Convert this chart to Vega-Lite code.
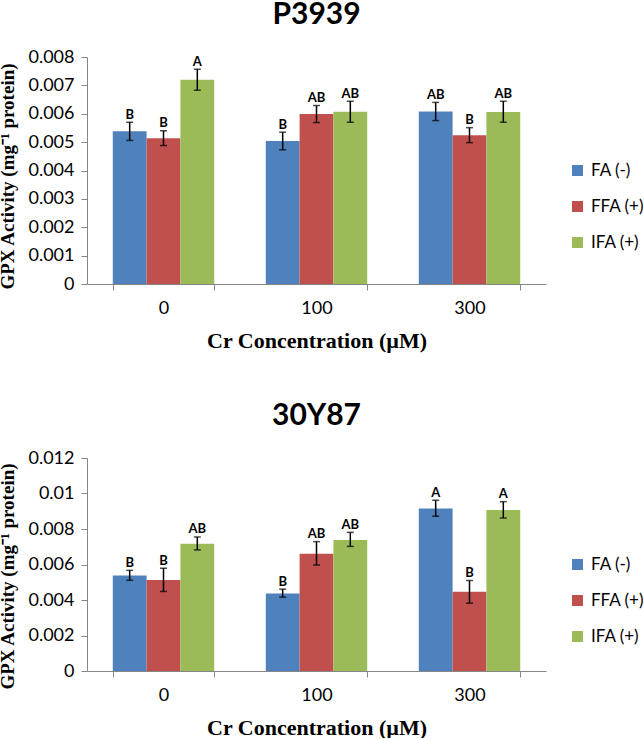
{
  "$schema": "https://vega.github.io/schema/vega-lite/v6.json",
  "padding": {"left": -3, "top": 0, "right": 0, "bottom": 0},
  "background": "white",
  "datasets": {
    "p3939": [
      {"conc": "0", "trt": "FA (-)", "value": 0.00538, "lo": 0.00506, "hi": 0.00570, "letter": "B"},
      {"conc": "0", "trt": "FFA (+)", "value": 0.00514, "lo": 0.00488, "hi": 0.00540, "letter": "B"},
      {"conc": "0", "trt": "IFA (+)", "value": 0.00720, "lo": 0.00683, "hi": 0.00757, "letter": "A"},
      {"conc": "100", "trt": "FA (-)", "value": 0.00504, "lo": 0.00473, "hi": 0.00535, "letter": "B"},
      {"conc": "100", "trt": "FFA (+)", "value": 0.00599, "lo": 0.00569, "hi": 0.00629, "letter": "AB"},
      {"conc": "100", "trt": "IFA (+)", "value": 0.00607, "lo": 0.00570, "hi": 0.00644, "letter": "AB"},
      {"conc": "300", "trt": "FA (-)", "value": 0.00608, "lo": 0.00576, "hi": 0.00640, "letter": "AB"},
      {"conc": "300", "trt": "FFA (+)", "value": 0.00524, "lo": 0.00498, "hi": 0.00551, "letter": "B"},
      {"conc": "300", "trt": "IFA (+)", "value": 0.00606, "lo": 0.00570, "hi": 0.00644, "letter": "AB"}
    ],
    "y87": [
      {"conc": "0", "trt": "FA (-)", "value": 0.00538, "lo": 0.00511, "hi": 0.00567, "letter": "B"},
      {"conc": "0", "trt": "FFA (+)", "value": 0.00513, "lo": 0.00448, "hi": 0.00579, "letter": "B"},
      {"conc": "0", "trt": "IFA (+)", "value": 0.00717, "lo": 0.00682, "hi": 0.00755, "letter": "AB"},
      {"conc": "100", "trt": "FA (-)", "value": 0.00436, "lo": 0.00416, "hi": 0.00461, "letter": "B"},
      {"conc": "100", "trt": "FFA (+)", "value": 0.00661, "lo": 0.00597, "hi": 0.00729, "letter": "AB"},
      {"conc": "100", "trt": "IFA (+)", "value": 0.00738, "lo": 0.00702, "hi": 0.00781, "letter": "AB"},
      {"conc": "300", "trt": "FA (-)", "value": 0.00915, "lo": 0.00872, "hi": 0.00962, "letter": "A"},
      {"conc": "300", "trt": "FFA (+)", "value": 0.00446, "lo": 0.00382, "hi": 0.00510, "letter": "B"},
      {"conc": "300", "trt": "IFA (+)", "value": 0.00907, "lo": 0.00862, "hi": 0.00954, "letter": "A"}
    ]
  },
  "vconcat": [
    {
      "width": 459,
      "height": 227,
      "title": {"text": "P3939", "font": "Lato", "fontSize": 30, "fontWeight": "bold", "color": "#000", "anchor": "middle", "frame": "group", "baseline": "alphabetic", "offset": -6},
      "data": {"name": "p3939"},
      "encoding": {
        "x": {"field": "conc", "type": "nominal", "sort": ["0", "100", "300"],
          "scale": {"paddingInner": 0.337, "paddingOuter": 0.1685},
          "axis": {"title": "Cr Concentration (µM)"}},
        "xOffset": {"field": "trt", "type": "nominal", "sort": ["FA (-)", "FFA (+)", "IFA (+)"], "scale": {"paddingInner": 0, "paddingOuter": 0}}
      },
      "layer": [
        {
          "mark": {"type": "bar"},
          "encoding": {
            "y": {"field": "value", "type": "quantitative", "scale": {"domain": [0, 0.008]},
              "axis": {"title": "GPX Activity (mg⁻¹ protein)", "values": [0, 0.001, 0.002, 0.003, 0.004, 0.005, 0.006, 0.007, 0.008], "titleY": 119}},
            "color": {"field": "trt", "type": "nominal",
              "scale": {"domain": ["FA (-)", "FFA (+)", "IFA (+)"], "range": ["#4F81BD", "#C0504D", "#9BBB59"]},
              "legend": {"legendX": 482, "legendY": 105}}
          }
        },
        {
          "mark": {"type": "rule", "color": "#000", "strokeWidth": 1.5},
          "encoding": {"y": {"field": "lo", "type": "quantitative", "axis": {"title": "GPX Activity (mg⁻¹ protein)", "values": [0, 0.001, 0.002, 0.003, 0.004, 0.005, 0.006, 0.007, 0.008], "titleY": 119}}, "y2": {"field": "hi"}}
        },
        {
          "mark": {"type": "tick", "color": "#000", "size": 7, "thickness": 1.5},
          "encoding": {"y": {"field": "lo", "type": "quantitative", "axis": {"title": "GPX Activity (mg⁻¹ protein)", "values": [0, 0.001, 0.002, 0.003, 0.004, 0.005, 0.006, 0.007, 0.008], "titleY": 119}}}
        },
        {
          "mark": {"type": "tick", "color": "#000", "size": 7, "thickness": 1.5},
          "encoding": {"y": {"field": "hi", "type": "quantitative", "axis": {"title": "GPX Activity (mg⁻¹ protein)", "values": [0, 0.001, 0.002, 0.003, 0.004, 0.005, 0.006, 0.007, 0.008], "titleY": 119}}}
        },
        {
          "mark": {"type": "text", "font": "Lato", "fontWeight": "bold", "fontSize": 13, "baseline": "alphabetic", "dy": -3.5, "color": "#000"},
          "encoding": {"y": {"field": "hi", "type": "quantitative", "axis": {"title": "GPX Activity (mg⁻¹ protein)", "values": [0, 0.001, 0.002, 0.003, 0.004, 0.005, 0.006, 0.007, 0.008], "titleY": 119}}, "text": {"field": "letter"}}
        }
      ]
    },
    {
      "width": 459,
      "height": 213,
      "title": {"text": "30Y87", "font": "Lato", "fontSize": 30, "fontWeight": "bold", "color": "#000", "anchor": "middle", "frame": "group", "baseline": "alphabetic", "offset": -6},
      "data": {"name": "y87"},
      "encoding": {
        "x": {"field": "conc", "type": "nominal", "sort": ["0", "100", "300"],
          "scale": {"paddingInner": 0.337, "paddingOuter": 0.1685},
          "axis": {"title": "Cr Concentration (µM)"}},
        "xOffset": {"field": "trt", "type": "nominal", "sort": ["FA (-)", "FFA (+)", "IFA (+)"], "scale": {"paddingInner": 0, "paddingOuter": 0}}
      },
      "layer": [
        {
          "mark": {"type": "bar"},
          "encoding": {
            "y": {"field": "value", "type": "quantitative", "scale": {"domain": [0, 0.012]},
              "axis": {"title": "GPX Activity (mg⁻¹ protein)", "values": [0, 0.002, 0.004, 0.006, 0.008, 0.01, 0.012], "titleY": 118}},
            "color": {"field": "trt", "type": "nominal",
              "scale": {"domain": ["FA (-)", "FFA (+)", "IFA (+)"], "range": ["#4F81BD", "#C0504D", "#9BBB59"]},
              "legend": {"legendX": 482, "legendY": 98}}
          }
        },
        {
          "mark": {"type": "rule", "color": "#000", "strokeWidth": 1.5},
          "encoding": {"y": {"field": "lo", "type": "quantitative", "axis": {"title": "GPX Activity (mg⁻¹ protein)", "values": [0, 0.002, 0.004, 0.006, 0.008, 0.01, 0.012], "titleY": 118}}, "y2": {"field": "hi"}}
        },
        {
          "mark": {"type": "tick", "color": "#000", "size": 7, "thickness": 1.5},
          "encoding": {"y": {"field": "lo", "type": "quantitative", "axis": {"title": "GPX Activity (mg⁻¹ protein)", "values": [0, 0.002, 0.004, 0.006, 0.008, 0.01, 0.012], "titleY": 118}}}
        },
        {
          "mark": {"type": "tick", "color": "#000", "size": 7, "thickness": 1.5},
          "encoding": {"y": {"field": "hi", "type": "quantitative", "axis": {"title": "GPX Activity (mg⁻¹ protein)", "values": [0, 0.002, 0.004, 0.006, 0.008, 0.01, 0.012], "titleY": 118}}}
        },
        {
          "mark": {"type": "text", "font": "Lato", "fontWeight": "bold", "fontSize": 13, "baseline": "alphabetic", "dy": -3.5, "color": "#000"},
          "encoding": {"y": {"field": "hi", "type": "quantitative", "axis": {"title": "GPX Activity (mg⁻¹ protein)", "values": [0, 0.002, 0.004, 0.006, 0.008, 0.01, 0.012], "titleY": 118}}, "text": {"field": "letter"}}
        }
      ]
    }
  ],
  "spacing": 50,
  "resolve": {"scale": {"x": "independent", "y": "independent", "xOffset": "independent", "color": "independent"}, "legend": {"color": "independent"}},
  "config": {
    "view": {"stroke": null},
    "font": "Lato",
    "axisX": {"labelAngle": 0, "tickBand": "extent", "domainColor": "#868686", "tickColor": "#868686", "tickSize": 6, "labelFont": "Lato", "labelFontSize": 18, "labelColor": "#000", "labelPadding": 9, "titleFont": "Liberation Serif", "titleFontSize": 22, "titleFontWeight": "bold", "titleColor": "#000", "titleBaseline": "alphabetic", "titleY": 63},
    "axisY": {"format": "~g", "labelOverlap": false, "grid": false, "domainColor": "#868686", "tickColor": "#868686", "tickSize": 6, "labelPadding": 7, "labelFont": "Lato", "labelFontSize": 18, "labelColor": "#000", "titleFont": "Liberation Serif", "titleFontSize": 19, "titleFontWeight": "bold", "titleColor": "#000", "titleX": -70},
    "legend": {"title": null, "orient": "none", "symbolType": "square", "symbolSize": 120, "symbolStrokeWidth": 0, "symbolOpacity": 1, "labelFont": "Lato", "labelFontSize": 17, "labelColor": "#000", "labelOffset": 5, "rowPadding": 18, "padding": 0}
  }
}
